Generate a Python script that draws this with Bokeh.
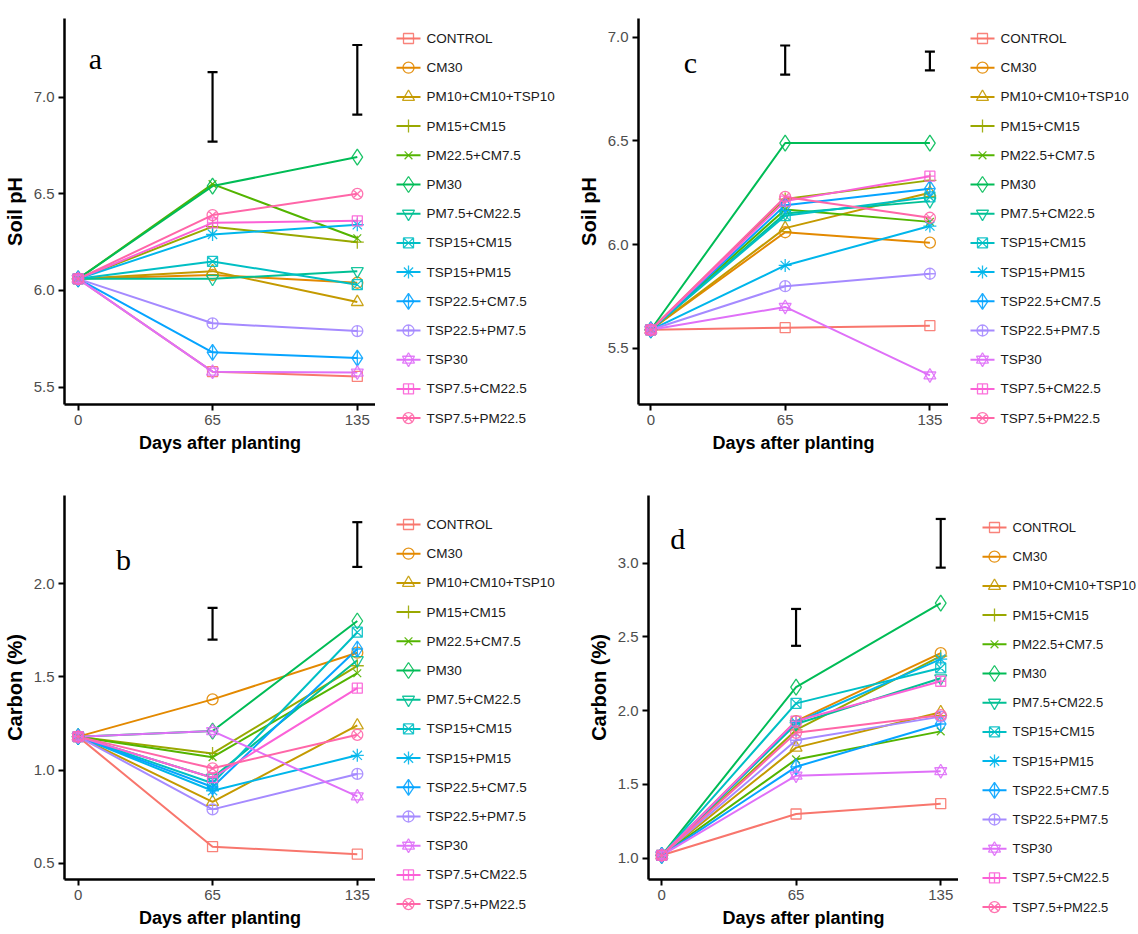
from bokeh.plotting import figure
from bokeh.models import (ColumnDataSource, FixedTicker, NumeralTickFormatter, Whisker,
                          TeeHead, Label, Range1d)
from bokeh.core.properties import value
from bokeh.layouts import column, row
from bokeh.embed import file_html
from bokeh.resources import INLINE

TREATMENTS = ["CONTROL", "CM30", "PM10+CM10+TSP10", "PM15+CM15", "PM22.5+CM7.5",
              "PM30", "PM7.5+CM22.5", "TSP15+CM15", "TSP15+PM15", "TSP22.5+CM7.5",
              "TSP22.5+PM7.5", "TSP30", "TSP7.5+CM22.5", "TSP7.5+PM22.5"]
DAYS = [0, 65, 135]
ERR_DAYS = [65, 135]

# panel a: soil pH, season 1
PH_A_DAY0 = [6.06, 6.06, 6.06, 6.06, 6.06, 6.06, 6.06, 6.06, 6.06, 6.06, 6.06, 6.06, 6.06, 6.06]
PH_A_DAY65 = [5.58, 6.08, 6.10, 6.33, 6.55, 6.54, 6.06, 6.15, 6.29, 5.68, 5.83, 5.58, 6.35, 6.39]
PH_A_DAY135 = [5.555, 6.04, 5.94, 6.25, 6.27, 6.69, 6.10, 6.03, 6.34, 5.65, 5.79, 5.575, 6.36, 6.50]
PH_A_ERR_LOW = [6.77, 6.91]
PH_A_ERR_HIGH = [7.13, 7.27]

# panel c: soil pH, season 2
PH_C_DAY0 = [5.59, 5.59, 5.59, 5.59, 5.59, 5.59, 5.59, 5.59, 5.59, 5.59, 5.59, 5.59, 5.59, 5.59]
PH_C_DAY65 = [5.60, 6.06, 6.08, 6.22, 6.17, 6.49, 6.15, 6.14, 5.90, 6.19, 5.80, 5.70, 6.21, 6.23]
PH_C_DAY135 = [5.61, 6.01, 6.25, 6.31, 6.11, 6.49, 6.21, 6.23, 6.09, 6.27, 5.86, 5.37, 6.33, 6.13]
PH_C_ERR_LOW = [6.82, 6.84]
PH_C_ERR_HIGH = [6.96, 6.93]

# panel b: carbon, season 1
C_B_DAY0 = [1.18, 1.18, 1.18, 1.18, 1.18, 1.18, 1.18, 1.18, 1.18, 1.18, 1.18, 1.18, 1.18, 1.18]
C_B_DAY65 = [0.59, 1.38, 0.83, 1.09, 1.07, 1.21, 0.96, 0.93, 0.89, 0.91, 0.79, 1.21, 0.96, 1.01]
C_B_DAY135 = [0.55, 1.63, 1.24, 1.56, 1.52, 1.80, 1.59, 1.74, 1.08, 1.65, 0.98, 0.86, 1.44, 1.19]
C_B_ERR_LOW = [1.70, 2.09]
C_B_ERR_HIGH = [1.87, 2.33]

# panel d: carbon, season 2
C_D_DAY0 = [1.02, 1.02, 1.02, 1.02, 1.02, 1.02, 1.02, 1.02, 1.02, 1.02, 1.02, 1.02, 1.02, 1.02]
C_D_DAY65 = [1.30, 1.93, 1.75, 1.87, 1.67, 2.16, 1.91, 2.05, 1.92, 1.62, 1.80, 1.56, 1.93, 1.85]
C_D_DAY135 = [1.37, 2.39, 1.99, 2.37, 1.86, 2.73, 2.22, 2.29, 2.35, 1.91, 1.96, 1.59, 2.20, 1.97]
C_D_ERR_LOW = [2.44, 2.97]
C_D_ERR_HIGH = [2.69, 3.30]

PH_TICKS = [5.5, 6.0, 6.5, 7.0]
C_B_TICKS = [0.5, 1.0, 1.5, 2.0]
C_D_TICKS = [1.0, 1.5, 2.0, 2.5, 3.0]

COLORS = ["#F8766D", "#E38900", "#C49A00", "#99A800", "#53B400", "#00BC56", "#00C094",
          "#00BFC4", "#00B6EB", "#06A4FF", "#A58AFF", "#DF70F8", "#FB61D7", "#FF66A8"]
SHAPES = [["square"], ["circle"], ["triangle"], ["cross"], ["x"], ["diamond"],
          ["inverted_triangle"], ["square_x"], ["asterisk"], ["diamond_cross"],
          ["circle_cross"], ["triangle", "inverted_triangle"], ["square_cross"], ["circle_x"]]
SIZES = {"square": 10, "circle": 11, "triangle": 12, "cross": 13, "x": 11, "diamond": 16,
         "inverted_triangle": 12, "square_x": 10, "asterisk": 13, "diamond_cross": 16,
         "circle_cross": 11, "square_cross": 10, "circle_x": 11}

SANS = "Liberation Sans"
LEG_PITCH = 29.2


def style_bare(f):
    f.outline_line_color = None
    f.xgrid.grid_line_color = None
    f.ygrid.grid_line_color = None
    f.background_fill_color = "white"
    f.border_fill_color = "white"


def make_legend(width, height, first_y, x0, font_size):
    # key panel in pixel units (y downwards), one row per treatment
    lf = figure(frame_width=width, frame_height=height,
                x_range=Range1d(0, width), y_range=Range1d(height, 0),
                x_axis_location=None, y_axis_location=None,
                output_backend="svg", toolbar_location=None,
                min_border_left=0, min_border_right=0, min_border_top=0, min_border_bottom=0)
    style_bare(lf)
    for i, name in enumerate(TREATMENTS):
        yk = first_y + LEG_PITCH * i
        src = ColumnDataSource(dict(xa=[x0], xb=[x0 + 24], xm=[x0 + 12], xt=[x0 + 30],
                                    y=[yk], label=[name]))
        lf.segment(x0="xa", y0="y", x1="xb", y1="y", source=src,
                   line_color=COLORS[i], line_width=2)
        for m in SHAPES[i]:
            lf.scatter("xm", "y", source=src, marker=m, size=SIZES[m], fill_color=None,
                       line_color=COLORS[i], line_width=1.3, line_alpha=0.9)
        lf.text("xt", "y", text="label", source=src, text_font=value(SANS),
                text_font_size=font_size, text_baseline="middle", text_align="left",
                text_color="#1a1a1a")
    return lf


def make_panel(day0, day65, day135, err_low, err_high, xr, yr, yticks, ylabel,
               letter, letter_xy, borders, frame):
    left, top, bottom = borders
    p = figure(frame_width=frame[0], frame_height=frame[1],
               x_range=Range1d(*xr), y_range=Range1d(*yr),
               output_backend="svg", toolbar_location=None,
               min_border_left=left, min_border_top=top,
               min_border_bottom=bottom, min_border_right=0)
    style_bare(p)

    p.xaxis.ticker = FixedTicker(ticks=DAYS)
    p.xaxis.formatter = NumeralTickFormatter(format="0")
    p.yaxis.ticker = FixedTicker(ticks=yticks)
    p.yaxis.formatter = NumeralTickFormatter(format="0.0")
    p.xaxis.axis_label = "Days after planting"
    p.yaxis.axis_label = ylabel
    for ax in (p.xaxis[0], p.yaxis[0]):
        ax.axis_line_width = 2.5
        ax.axis_line_color = "black"
        ax.major_tick_line_width = 2
        ax.major_tick_line_color = "black"
        ax.major_tick_out = 6
        ax.major_tick_in = 0
        ax.minor_tick_line_color = None
        ax.major_label_text_font = SANS
        ax.major_label_text_font_size = "15px"
        ax.major_label_text_color = "#4D4D4D"
        ax.major_label_standoff = 4
        ax.axis_label_text_font = SANS
        ax.axis_label_text_font_style = "bold"
        ax.axis_label_text_color = "black"
        ax.axis_label_standoff = 5
    p.xaxis.axis_label_text_font_size = "18px"
    p.yaxis.axis_label_text_font_size = "20px"

    sources = [ColumnDataSource(dict(x=DAYS, y=[day0[i], day65[i], day135[i]]))
               for i in range(len(TREATMENTS))]
    for i in range(len(TREATMENTS)):
        p.line("x", "y", source=sources[i], line_color=COLORS[i], line_width=2)
    for i in range(len(TREATMENTS)):
        for m in SHAPES[i]:
            p.scatter("x", "y", source=sources[i], marker=m, size=SIZES[m],
                      fill_color=None, line_color=COLORS[i], line_width=1.3, line_alpha=0.9)

    esrc = ColumnDataSource(dict(x=ERR_DAYS, lower=err_low, upper=err_high))
    wh = Whisker(base="x", lower="lower", upper="upper", source=esrc,
                 line_color="black", line_width=2.2,
                 upper_head=TeeHead(size=10, line_width=2.2, line_color="black"),
                 lower_head=TeeHead(size=10, line_width=2.2, line_color="black"))
    p.add_layout(wh)

    p.add_layout(Label(x=letter_xy[0], y=letter_xy[1], text=letter,
                       text_font="Liberation Serif", text_font_size="30px",
                       text_align="center", text_baseline="middle", text_color="black"))
    return p


pa = make_panel(PH_A_DAY0, PH_A_DAY65, PH_A_DAY135, PH_A_ERR_LOW, PH_A_ERR_HIGH,
                (-6.6, 143.8), (5.41, 7.407), PH_TICKS, "Soil pH",
                "a", (8.4, 7.2), (64, 18, 61), (311, 386))
la = make_legend(190, 465, 20, 21, "13.5px")
pc = make_panel(PH_C_DAY0, PH_C_DAY65, PH_C_DAY135, PH_C_ERR_LOW, PH_C_ERR_HIGH,
                (-5.95, 144.0), (5.23, 7.09), PH_TICKS, "Soil pH",
                "c", (19.2, 6.88), (73, 17, 62), (310, 386))
lc = make_legend(190, 465, 20, 22, "13.5px")
pb = make_panel(C_B_DAY0, C_B_DAY65, C_B_DAY135, C_B_ERR_LOW, C_B_ERR_HIGH,
                (-6.6, 143.8), (0.414, 2.473), C_B_TICKS, "Carbon (%)",
                "b", (21.9, 2.13), (64, 27, 58), (311, 384))
lb = make_legend(190, 469, 29, 21, "13.5px")
pd_ = make_panel(C_D_DAY0, C_D_DAY65, C_D_DAY135, C_D_ERR_LOW, C_D_ERR_HIGH,
                 (-6.4, 143.6), (0.856, 3.459), C_D_TICKS, "Carbon (%)",
                 "d", (7.7, 3.17), (83, 30, 55), (310, 384))
ld = make_legend(180, 469, 32, 24, "13px")

layout = column(row(pa, la, pc, lc), row(pb, lb, pd_, ld))
open("out.html", "w").write(file_html(layout, INLINE))
